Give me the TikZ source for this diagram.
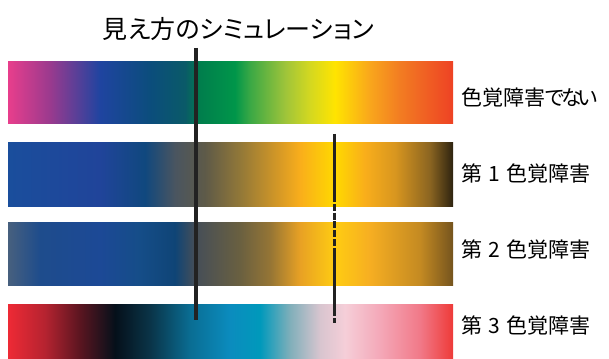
\documentclass[tikz,border=0pt]{standalone}
\usepackage{fontspec}
\setmainfont{Noto Sans CJK JP}[RawFeature={+palt}]
% bar 1: normal vision
\definecolor{a01}{HTML}{E83E8C}\definecolor{a02}{HTML}{9A3A8E}\definecolor{a03}{HTML}{1F44A0}
\definecolor{a04}{HTML}{0B4D7C}\definecolor{a05}{HTML}{0A5A68}\definecolor{a06}{HTML}{007E4C}
\definecolor{a07}{HTML}{00964A}\definecolor{a08}{HTML}{3AA845}\definecolor{a09}{HTML}{9EC43A}
\definecolor{a10}{HTML}{D4D820}\definecolor{a11}{HTML}{FFE400}\definecolor{a12}{HTML}{F9A61C}
\definecolor{a13}{HTML}{F27C22}\definecolor{a14}{HTML}{EE4224}
% bar 2: protan
\definecolor{b01}{HTML}{1A4E9C}\definecolor{b02}{HTML}{20449A}\definecolor{b03}{HTML}{10487E}
\definecolor{b04}{HTML}{4A5560}\definecolor{b05}{HTML}{5E5A48}\definecolor{b06}{HTML}{927838}
\definecolor{b07}{HTML}{D89A25}\definecolor{b08}{HTML}{F9AE1B}\definecolor{b09}{HTML}{FFD900}
\definecolor{b10}{HTML}{F9AE1B}\definecolor{b11}{HTML}{D8961F}\definecolor{b12}{HTML}{8A6421}
\definecolor{b13}{HTML}{2E2310}
% bar 3: deutan
\definecolor{c01}{HTML}{47607E}\definecolor{c02}{HTML}{1E4C8C}\definecolor{c03}{HTML}{1C4996}
\definecolor{c04}{HTML}{154D88}\definecolor{c05}{HTML}{0F4476}\definecolor{c06}{HTML}{454E58}
\definecolor{c07}{HTML}{6A6040}\definecolor{c08}{HTML}{957535}\definecolor{c09}{HTML}{E8A124}
\definecolor{c10}{HTML}{FFCC12}\definecolor{c11}{HTML}{F6AE22}\definecolor{c12}{HTML}{C48A22}
\definecolor{c13}{HTML}{75541E}
% bar 4: tritan
\definecolor{d01}{HTML}{EE2A35}\definecolor{d02}{HTML}{B52330}\definecolor{d03}{HTML}{5A1520}
\definecolor{d04}{HTML}{05101A}\definecolor{d05}{HTML}{0A3448}\definecolor{d06}{HTML}{0A6D93}
\definecolor{d07}{HTML}{0B8CBE}\definecolor{d08}{HTML}{0099BB}\definecolor{d09}{HTML}{80AFBA}
\definecolor{d10}{HTML}{D8C5CF}\definecolor{d11}{HTML}{F5CED8}\definecolor{d12}{HTML}{F4A8B8}
\definecolor{d13}{HTML}{F17988}\definecolor{d14}{HTML}{EE3A38}
\definecolor{linecol}{HTML}{222222}

\pgfdeclarehorizontalshading{barA}{100bp}{color(0bp)=(a01); color(25bp)=(a01); color(29.72bp)=(a02);
 color(35.34bp)=(a03); color(40.96bp)=(a04); color(44.89bp)=(a05); color(46.57bp)=(a06);
 color(50.51bp)=(a07); color(52.19bp)=(a08); color(56.12bp)=(a09); color(58.93bp)=(a10);
 color(61.74bp)=(a11); color(65.67bp)=(a12); color(69.04bp)=(a13); color(75bp)=(a14); color(100bp)=(a14)}
\pgfdeclarehorizontalshading{barB}{100bp}{color(0bp)=(b01); color(25bp)=(b01); color(35.34bp)=(b02);
 color(40.39bp)=(b03); color(43.76bp)=(b04); color(47.13bp)=(b05); color(51.07bp)=(b06);
 color(55.56bp)=(b07); color(57.81bp)=(b08); color(61.74bp)=(b09); color(65.11bp)=(b10);
 color(68.48bp)=(b11); color(72.42bp)=(b12); color(75bp)=(b13); color(100bp)=(b13)}
\pgfdeclarehorizontalshading{barC}{100bp}{color(0bp)=(c01); color(25bp)=(c01); color(28.60bp)=(c02);
 color(35.34bp)=(c03); color(39.83bp)=(c04); color(43.76bp)=(c05); color(46.01bp)=(c06);
 color(51.07bp)=(c07); color(54.44bp)=(c08); color(57.81bp)=(c09); color(61.74bp)=(c10);
 color(65.67bp)=(c11); color(71.29bp)=(c12); color(75bp)=(c13); color(100bp)=(c13)}
\pgfdeclarehorizontalshading{barD}{100bp}{color(0bp)=(d01); color(25bp)=(d01); color(29.16bp)=(d02);
 color(33.09bp)=(d03); color(37.02bp)=(d04); color(40.96bp)=(d05); color(45.45bp)=(d06);
 color(49.94bp)=(d07); color(53.32bp)=(d08); color(56.69bp)=(d09); color(60.06bp)=(d10);
 color(62.87bp)=(d11); color(66.80bp)=(d12); color(71.29bp)=(d13); color(75bp)=(d14); color(100bp)=(d14)}

\begin{document}
\begin{tikzpicture}[x=1pt,y=-1pt,
  lbl/.style={anchor=west,inner sep=0pt,font=\fontsize{21}{24}\selectfont},
  markline/.style={draw=linecol,line cap=butt},
  ]
\useasboundingbox[fill=white] (0,0) rectangle (609,358);
% bars
\path[shading=barA] (8,62) rectangle (453,124);
\path[shading=barB] (8,143) rectangle (453,206);
\path[shading=barC] (8,222) rectangle (453,285);
\path[shading=barD] (8,304) rectangle (453,358);
% title
\node[inner sep=0pt,font=\fontsize{25}{28}\selectfont] (title) at (238.5,29) {見え方のシミュレーション};
% labels
\node[lbl] (l0) at (461,98) {色覚障害で\kern-3pt な\kern-4pt い};
\node[lbl] (l1) at (461,173.5) {第 \kern1.8pt 1 \kern1.8pt 色覚障害};
\node[lbl] (l2) at (461,249) {第 \kern1.8pt 2 \kern1.8pt 色覚障害};
\node[lbl] (l3) at (461,325) {第 \kern1.8pt 3 \kern1.8pt 色覚障害};
% vertical marker lines
\coordinate (m1t) at (195.5,48);
\coordinate (m1b) at (195.5,320);
\draw[markline,line width=4pt] (m1t) -- (m1b);
\coordinate (m2t) at (334.5,134);
\coordinate (m2a) at (334.5,195);
\coordinate (m2b) at (334.5,253);
\coordinate (m2c) at (334.5,316);
\coordinate (m2d) at (334.5,318);
\coordinate (m2e) at (334.5,323);
\draw[markline,line width=2.5pt] (m2t) -- (m2a);
\draw[markline,line width=2.5pt,dash pattern=on 7pt off 1.8pt] (m2a) -- (m2b);
\draw[markline,line width=2.5pt] (m2b) -- (m2c);
\draw[markline,line width=2.5pt] (m2d) -- (m2e);
\end{tikzpicture}
\end{document}
